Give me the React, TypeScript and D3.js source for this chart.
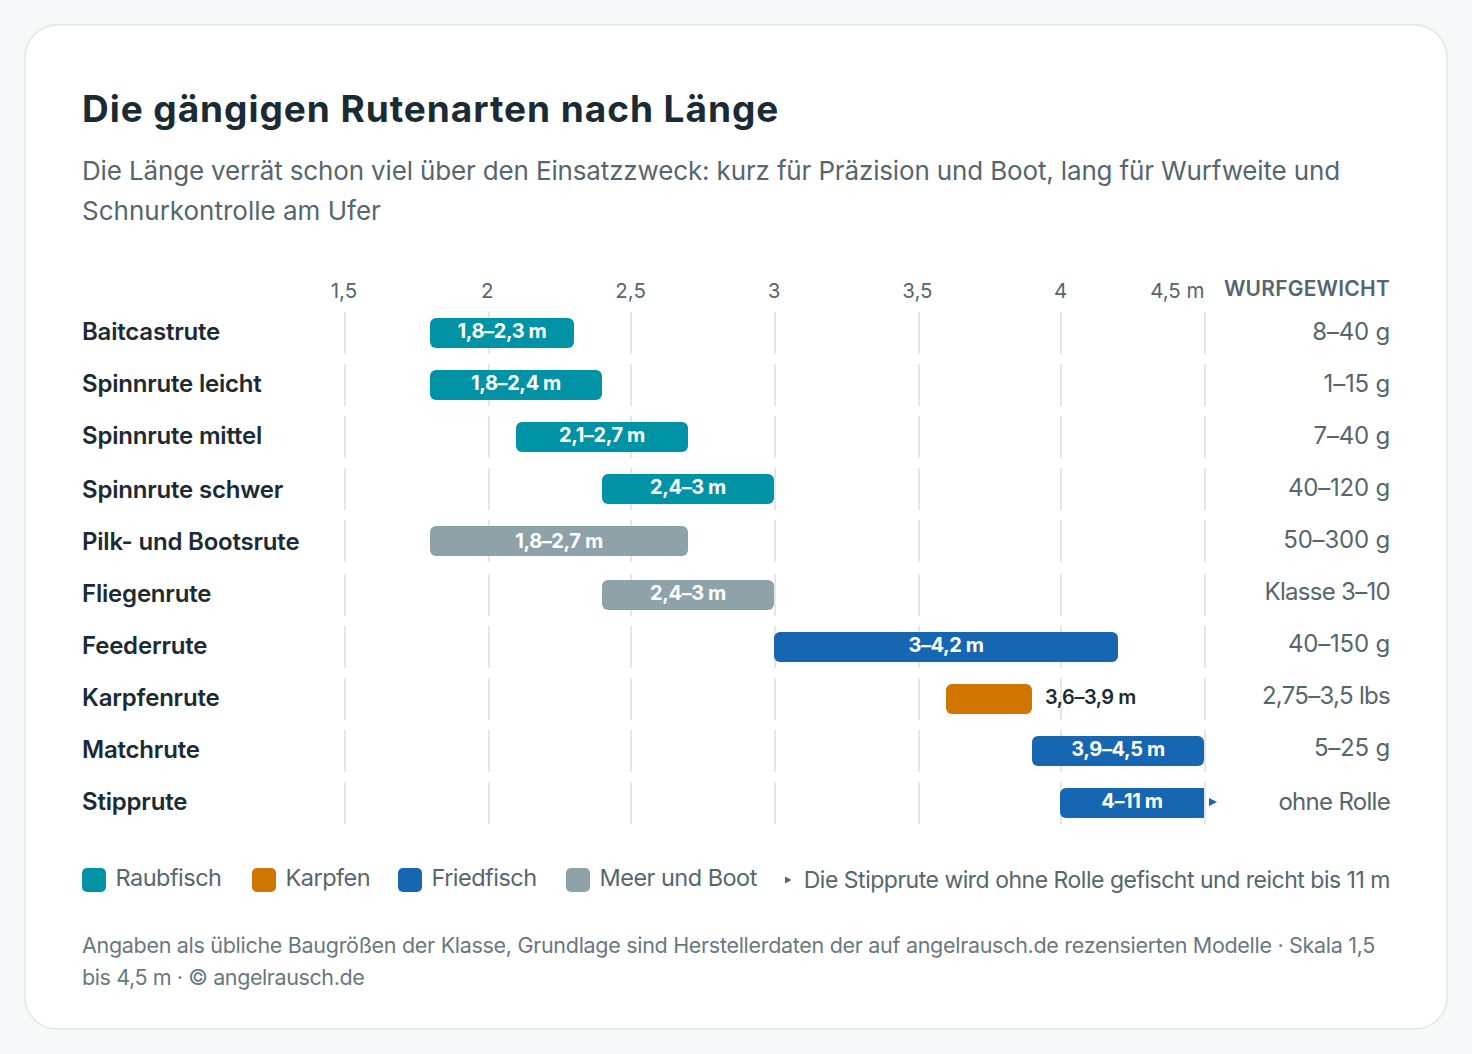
import React from "react";
import { scaleLinear } from "d3";

const FONT = "Inter, 'Noto Sans', sans-serif";

const rods = ["Baitcastrute", "Spinnrute leicht", "Spinnrute mittel", "Spinnrute schwer", "Pilk- und Bootsrute", "Fliegenrute", "Feederrute", "Karpfenrute", "Matchrute", "Stipprute"];
const minLength = [1.8, 1.8, 2.1, 2.4, 1.8, 2.4, 3, 3.6, 3.9, 4];
const maxLength = [2.3, 2.4, 2.7, 3, 2.7, 3, 4.2, 3.9, 4.5, 11];
const rangeLabels = ["1,8–2,3 m", "1,8–2,4 m", "2,1–2,7 m", "2,4–3 m", "1,8–2,7 m", "2,4–3 m", "3–4,2 m", "3,6–3,9 m", "3,9–4,5 m", "4–11 m"];
const groups = ["Raubfisch", "Raubfisch", "Raubfisch", "Raubfisch", "Meer und Boot", "Meer und Boot", "Friedfisch", "Karpfen", "Friedfisch", "Friedfisch"];
const weights = ["8–40 g", "1–15 g", "7–40 g", "40–120 g", "50–300 g", "Klasse 3–10", "40–150 g", "2,75–3,5 lbs", "5–25 g", "ohne Rolle"];

const ticks = [1.5, 2, 2.5, 3, 3.5, 4, 4.5];
const tickLabels = ["1,5", "2", "2,5", "3", "3,5", "4", "4,5 m"];

const legendNames = ["Raubfisch", "Karpfen", "Friedfisch", "Meer und Boot"];
const legendColors = ["#0093a5", "#cf7500", "#1666b2", "#8da2a9"];
const legendX = [82, 252, 398, 566];

const x = scaleLinear().domain([1.5, 4.5]).range([344, 1204]);

// grid lines sit on whole pixels, the original snaps them to odd centres
const gridX = (t: number) => 2 * Math.round(x(t) / 2) + 1;
const rowTop = (i: number) => 312 + 52 * i + (i >= 5 ? 2 : 0);
const nameY = (i: number) => 340 + 52 * i + (i >= 3 ? 2 : 0);
const rangeY = (i: number) => 338 + 52 * i + (i >= 4 ? 2 : 0);
const weightY = (i: number) => 340 + 52 * i + (i >= 9 ? 2 : 0);

export default function App() {
  const color = (g: string) => legendColors[legendNames.indexOf(g)];
  return (
    <svg
      width={1472}
      height={1054}
      viewBox="0 0 1472 1054"
      style={{ position: "absolute", left: 0, top: 0, fontFamily: FONT }}
    >
      <rect width={1472} height={1054} fill="#f6f8f9" />
      <rect x={25} y={25} width={1422} height={1004} rx={32} fill="#fff" stroke="#e6eaec" strokeWidth={2} />

      <text x={82} y={122} fontSize={37} fontWeight={700} fill="#1c2b33" letterSpacing={0.95}>
        Die gängigen Rutenarten nach Länge
      </text>
      <text x={82} y={180} fontSize={26} fill="#56666e" letterSpacing={-0.15}>
        Die Länge verrät schon viel über den Einsatzzweck: kurz für Präzision und Boot, lang für Wurfweite und
      </text>
      <text x={82} y={220} fontSize={26} fill="#56666e" letterSpacing={0}>
        Schnurkontrolle am Ufer
      </text>

      {/* axis labels */}
      {ticks.map((t, i) => {
        const last = i === ticks.length - 1;
        return (
          <text
            key={t}
            x={last ? x(t) + 0.5 : x(t)}
            y={298}
            fontSize={20.5}
            textAnchor={last ? "end" : "middle"}
            fill="#56666e"
          >
            {tickLabels[i]}
          </text>
        );
      })}
      <text x={1390} y={296} fontSize={21} fontWeight={600} textAnchor="end" fill="#56666e" letterSpacing={0.23}>
        WURFGEWICHT
      </text>

      {rods.map((rod, i) => {
        const top = rowTop(i);
        const x0 = Math.floor(x(minLength[i]) + 0.01);
        const x1 = Math.ceil(x(Math.min(maxLength[i], 4.5)) - 0.01);
        const clipped = maxLength[i] > 4.5;
        const fits = x1 - x0 > 100;
        return (
          <g key={rod}>
            {ticks.map((t) => (
              <line key={t} x1={gridX(t)} x2={gridX(t)} y1={top} y2={top + 42} stroke="#e3e7e9" strokeWidth={2} />
            ))}
            <text x={82} y={nameY(i)} fontSize={24} fontWeight={600} fill="#1c2b33" letterSpacing={-0.2}>
              {rod}
            </text>
            {clipped ? (
              <path
                d={`M${x0 + 6},${top + 6}H${x1}V${top + 36}H${x0 + 6}a6,6 0 0 1 -6,-6V${top + 12}a6,6 0 0 1 6,-6Z`}
                fill={color(groups[i])}
              />
            ) : (
              <rect x={x0} y={top + 6} width={x1 - x0} height={30} rx={6} fill={color(groups[i])} />
            )}
            {fits ? (
              <text x={(x0 + x1) / 2} y={rangeY(i)} fontSize={20} fontWeight={700} textAnchor="middle" fill="#fff" letterSpacing={-0.4}>
                {rangeLabels[i]}
              </text>
            ) : (
              <text x={x1 + 13} y={rangeY(i)} fontSize={20} fontWeight={600} fill="#1c2b33" letterSpacing={-0.5}>
                {rangeLabels[i]}
              </text>
            )}
            {clipped && <path d={`M${x1 + 5},${top + 16}l8,4l-8,4Z`} fill={color(groups[i])} />}
            <text
              x={1390}
              y={weightY(i)}
              fontSize={24}
              textAnchor="end"
              fill="#56666e"
              letterSpacing={/[a-z]{3}/.test(weights[i]) ? -0.7 : -0.2}
            >
              {weights[i]}
            </text>
          </g>
        );
      })}

      {legendNames.map((name, i) => (
        <g key={name}>
          <rect x={legendX[i]} y={868} width={24} height={24} rx={5} fill={legendColors[i]} />
          <text x={legendX[i] + 33.5} y={886} fontSize={23.5} fill="#56666e" letterSpacing={-0.52}>
            {name}
          </text>
        </g>
      ))}
      <path d="M785,876.5l6.5,3.5l-6.5,3.5Z" fill="#56666e" />
      <text x={1390} y={888} fontSize={23} textAnchor="end" fill="#56666e" letterSpacing={-0.49}>
        Die Stipprute wird ohne Rolle gefischt und reicht bis 11 m
      </text>

      <text x={82} y={953} fontSize={21.5} fill="#687880" letterSpacing={-0.3}>
        Angaben als übliche Baugrößen der Klasse, Grundlage sind Herstellerdaten der auf angelrausch.de rezensierten Modelle · Skala 1,5
      </text>
      <text x={82} y={985} fontSize={21.5} fill="#687880" letterSpacing={-0.4}>
        bis 4,5 m · © angelrausch.de
      </text>
    </svg>
  );
}
